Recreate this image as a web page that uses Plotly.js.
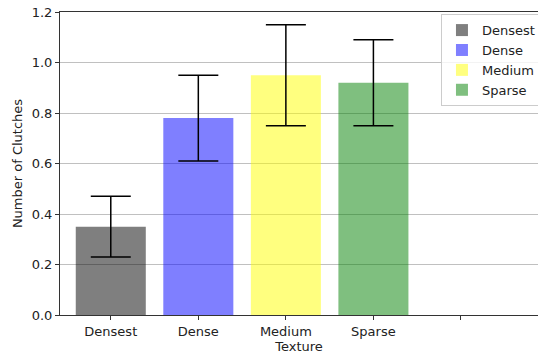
<!DOCTYPE html>
<html>
<head>
<meta charset="utf-8">
<script src="https://cdn.plot.ly/plotly-3.0.1.min.js"></script>
<style>html,body{margin:0;padding:0;background:#fff;}#chart{width:538px;height:356px;}</style>
</head>
<body>
<div id="chart"></div>
<script>
const categories = ["Densest", "Dense", "Medium", "Sparse"];
const tickLabels = ["Densest", "Dense", "Medium", "Sparse", ""];
const means = [0.35, 0.78, 0.95, 0.92];
const errUpper = [0.47, 0.95, 1.15, 1.09];
const errLower = [0.23, 0.61, 0.75, 0.75];
const colors = ["rgba(0,0,0,0.5)", "rgba(0,0,255,0.5)", "rgba(255,255,0,0.5)", "rgba(0,128,0,0.5)"];

const traces = categories.map((c, i) => ({
  type: "bar",
  name: c,
  x: [i],
  y: [means[i]],
  width: 0.8,
  marker: {color: colors[i], line: {width: 0}},
  error_y: {
    type: "data",
    symmetric: false,
    array: [errUpper[i] - means[i]],
    arrayminus: [means[i] - errLower[i]],
    color: "#000",
    thickness: 1.5,
    width: 20
  }
}));

const layout = {
  width: 538, height: 356,
  margin: {l: 60, r: 0, t: 12, b: 41, autoexpand: false},
  paper_bgcolor: "#fff", plot_bgcolor: "#fff",
  font: {family: "DejaVu Sans", size: 13, color: "#222"},
  barmode: "overlay",
  showlegend: true,
  legend: {
    x: 0.797, y: 0.993, xanchor: "left", yanchor: "top",
    bgcolor: "rgba(255,255,255,0.8)", bordercolor: "#cccccc", borderwidth: 1,
    font: {family: "DejaVu Sans", size: 13, color: "#222"},
    tracegroupgap: 0
  },
  xaxis: {
    range: [-0.58, 4.88],
    tickmode: "array",
    tickvals: tickLabels.map((_, i) => i),
    ticktext: tickLabels,
    showgrid: false, zeroline: false,
    showline: true, linecolor: "#333", linewidth: 1, mirror: true,
    ticks: "outside", ticklen: 4, tickcolor: "#333",
    title: {text: "Texture", font: {size: 13}, standoff: 2}
  },
  yaxis: {
    range: [0, 1.2],
    tickvals: [0, 0.2, 0.4, 0.6, 0.8, 1.0, 1.2],
    tickformat: ".1f",
    showgrid: true, gridcolor: "#c0c0c0", gridwidth: 1,
    zeroline: false,
    showline: true, linecolor: "#333", linewidth: 1,
    ticks: "outside", ticklen: 4, tickcolor: "#333",
    title: {text: "Number of Clutches", font: {size: 13}, standoff: 6}
  }
};

Plotly.newPlot("chart", traces, layout, {displayModeBar: false, staticPlot: true});
</script>
</body>
</html>
